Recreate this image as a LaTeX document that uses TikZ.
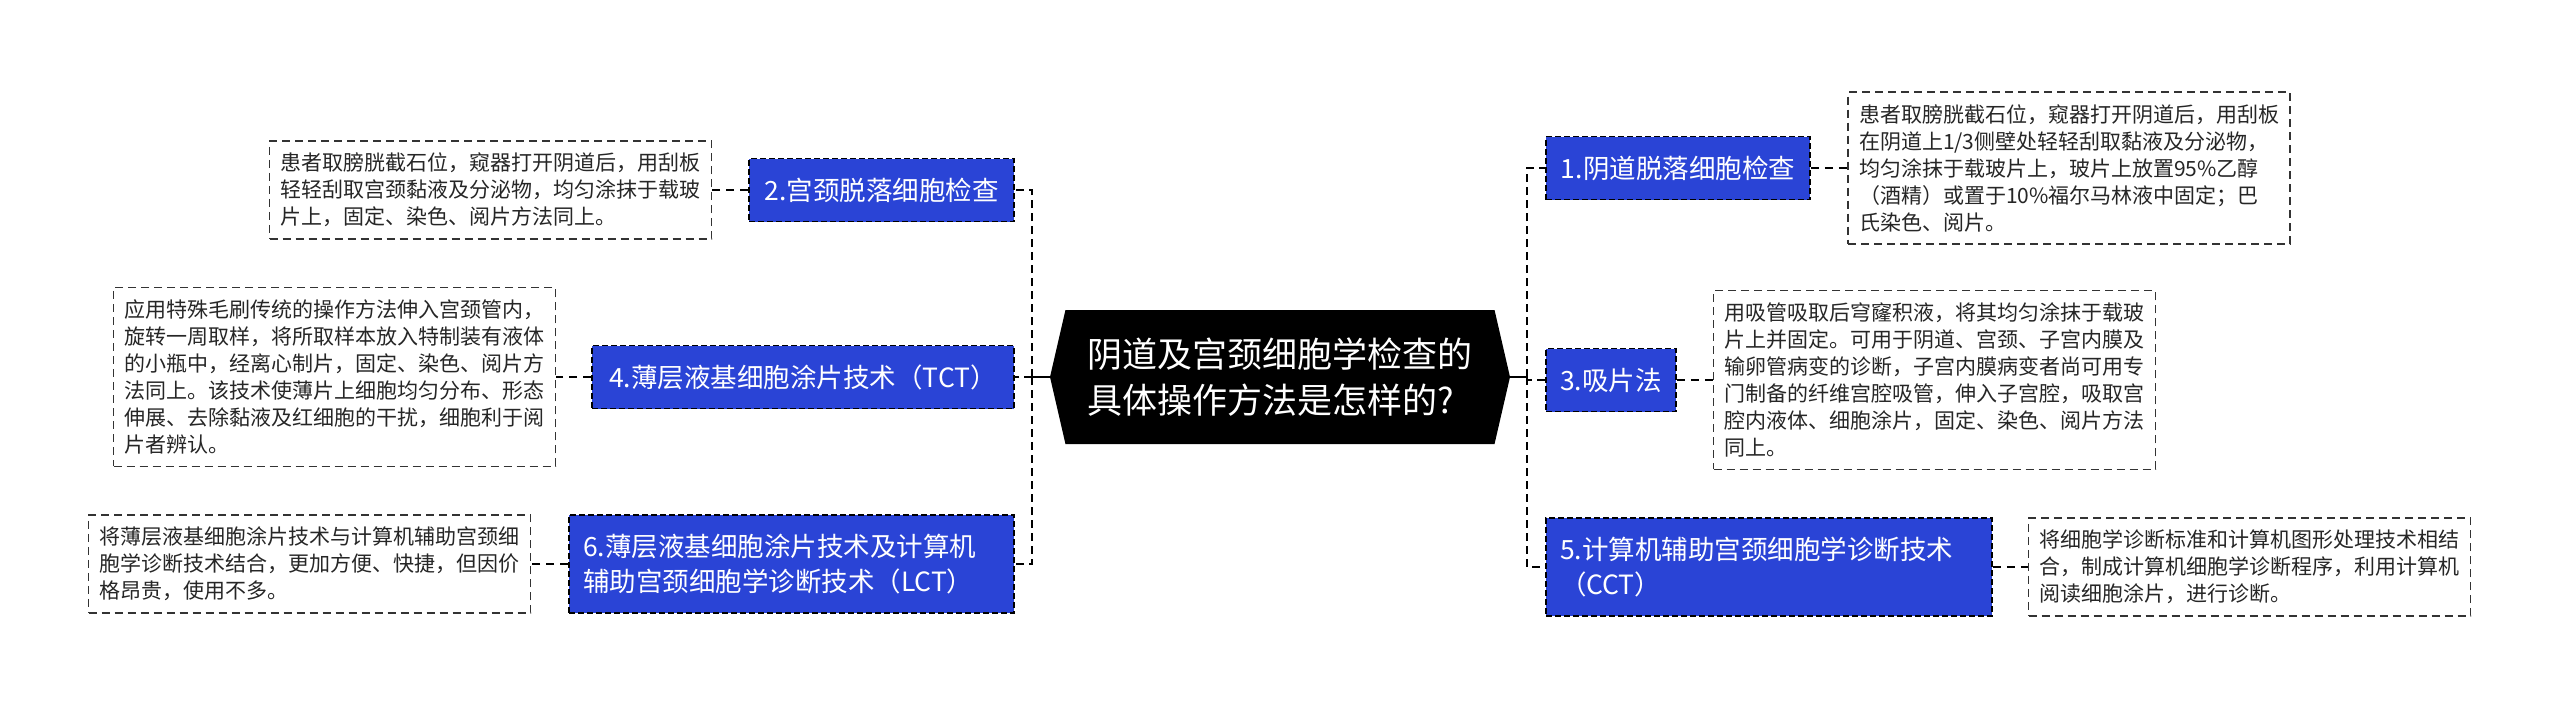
\documentclass[tikz,border=0pt]{standalone}
\usepackage{fontspec}
\newfontfamily\cjk{Noto Sans CJK SC}
\usetikzlibrary{shapes.symbols}

\definecolor{topicblue}{HTML}{2A44D6}

\tikzset{
  hub/.style={shape=signal, signal to=west and east, signal pointer angle=154,
    fill=black, text=white, minimum width=460pt, minimum height=134pt,
    inner xsep=18pt, align=left, font=\cjk\fontsize{35}{46}\selectfont},
  topic/.style={fill=topicblue, draw=black, line width=1.6pt,
    dash pattern=on 6pt off 3pt, text=white, minimum height=63pt,
    inner xsep=14pt, inner ysep=10pt, align=left,
    font=\cjk\fontsize{26.5}{35}\selectfont},
  detail/.style={fill=white, draw=black!80, line width=1.5pt,
    dash pattern=on 8pt off 5pt, text=black!85, text width=420pt,
    inner xsep=11pt, inner ysep=12pt, align=left,
    font=\cjk\fontsize{21}{27}\selectfont},
  stem/.style={line width=2.5pt},
  branch/.style={line width=2.5pt, dash pattern=on 8pt off 5pt},
  leaf/.style={line width=1.8pt, dash pattern=on 8pt off 6pt}
}

\begin{document}
\begin{tikzpicture}[x=1pt, y=-1pt]
  %%%%% START %%%%%
  \fill[white] (0,0) rectangle (2560,709);
  \useasboundingbox (0,0) rectangle (2560,709);

  % centre
  \node[hub] (c) at (1280,377) {阴道及宫颈细胞学检查的\\具体操作方法是怎样的?};
  \coordinate (lj) at (1032,377);
  \coordinate (rj) at (1527,377);

  % left topics
  \node[topic, minimum width=265pt] (n2) at (881.5,190) {2.宫颈脱落细胞检查};
  \node[topic, minimum width=422pt] (n4) at (803,377) {4.薄层液基细胞涂片技术（TCT）};
  \node[topic, text width=417pt, minimum height=98pt] (n6) at (791.5,564)
    {6.薄层液基细胞涂片技术及计算机\\辅助宫颈细胞学诊断技术（LCT）};

  % right topics
  \node[topic, minimum width=264pt] (n1) at (1678,168) {1.阴道脱落细胞检查};
  \node[topic, minimum width=130pt] (n3) at (1611,380) {3.吸片法};
  \node[topic, text width=418pt, minimum height=98pt] (n5) at (1769,567)
    {5.计算机辅助宫颈细胞学诊断技术\\（CCT）};

  % details
  \node[detail] (t2) at (490.5,190) {患者取膀胱截石位，窥器打开阴道后，用刮板\\
    轻轻刮取宫颈黏液及分泌物，均匀涂抹于载玻\\片上，固定、染色、阅片方法同上。};
  \node[detail] (t4) at (334.5,377) {应用特殊毛刷传统的操作方法伸入宫颈管内，\\
    旋转一周取样，将所取样本放入特制装有液体\\的小瓶中，经离心制片，固定、染色、阅片方\\
    法同上。该技术使薄片上细胞均匀分布、形态\\伸展、去除黏液及红细胞的干扰，细胞利于阅\\片者辨认。};
  \node[detail] (t6) at (309.5,564) {将薄层液基细胞涂片技术与计算机辅助宫颈细\\
    胞学诊断技术结合，更加方便、快捷，但因价\\格昂贵，使用不多。};
  \node[detail] (t1) at (2069,168) {患者取膀胱截石位，窥器打开阴道后，用刮板\\
    在阴道上1/3侧壁处轻轻刮取黏液及分泌物，\\均匀涂抹于载玻片上，玻片上放置95\%乙醇\\
    （酒精）或置于10\%福尔马林液中固定；巴\\氏染色、阅片。};
  \node[detail] (t3) at (1934.5,380) {用吸管吸取后穹窿积液，将其均匀涂抹于载玻\\
    片上并固定。可用于阴道、宫颈、子宫内膜及\\输卵管病变的诊断，子宫内膜病变者尚可用专\\
    门制备的纤维宫腔吸管，伸入子宫腔，吸取宫\\腔内液体、细胞涂片，固定、染色、阅片方法\\同上。};
  \node[detail] (t5) at (2249.5,567) {将细胞学诊断标准和计算机图形处理技术相结\\
    合，制成计算机细胞学诊断程序，利用计算机\\阅读细胞涂片，进行诊断。};

  % connectors
  \draw[stem] (c.west) -- (lj);
  \draw[stem] (c.east) -- (rj);
  \draw[branch] (lj) |- (n2.east);
  \draw[branch] (lj) -- (n4.east);
  \draw[branch] (lj) |- (n6.east);
  \draw[branch] (rj) |- (n1.west);
  \draw[branch] (rj) |- (n3.west);
  \draw[branch] (rj) |- (n5.west);

  \draw[leaf] (n2) -- (t2);
  \draw[leaf] (n4) -- (t4);
  \draw[leaf] (n6) -- (t6);
  \draw[leaf] (n1) -- (t1);
  \draw[leaf] (n3) -- (t3);
  \draw[leaf] (n5) -- (t5);
  %%%%% END %%%%%
\end{tikzpicture}
\end{document}
